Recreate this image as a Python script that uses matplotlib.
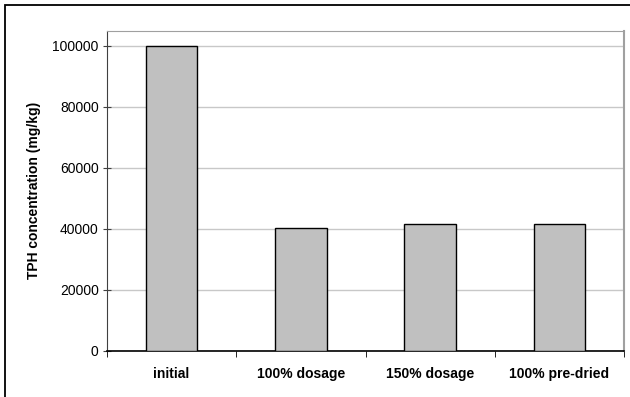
import matplotlib
matplotlib.use("Agg")
import matplotlib.pyplot as plt
from matplotlib.patches import Rectangle
import numpy as np

categories = ["initial", "100% dosage", "150% dosage", "100% pre-dried"]
tph_values = [100000, 40200, 41500, 41500]
y_ticks = [0, 20000, 40000, 60000, 80000, 100000]
y_label = "TPH concentration (mg/kg)"

plt.rcParams['font.family'] = ['Liberation Sans', 'DejaVu Sans']

W, H = 630, 397
fig = plt.figure(figsize=(W / 100, H / 100), dpi=100)
fig.patch.set_facecolor('white')

# outer frame (left and top visible)
fig.patches.append(Rectangle((5 / W, -0.2), 1.5, 1.2 - 5 / H, transform=fig.transFigure,
                             fill=False, edgecolor='black', linewidth=1.3))

left, right, top, bottom = 107, 624, 31, 350.5
ax = fig.add_axes([left / W, 1 - bottom / H, (right - left) / W, (bottom - top) / H])

x = np.arange(len(categories))
ax.bar(x, tph_values, width=0.4, color='#c0c0c0', edgecolor='black', linewidth=1.0, zorder=3)

ax.set_xlim(-0.5, len(categories) - 0.5)
ax.set_ylim(0, 104900)
ax.set_yticks(y_ticks)
ax.set_yticklabels([str(v) for v in y_ticks], fontsize=10)
ax.yaxis.grid(True, color='#c8c8c8', linewidth=1.0, zorder=0)
ax.set_axisbelow(True)

ax.set_xticks(x)
ax.set_xticklabels(categories, fontsize=10, fontweight='bold')
ax.tick_params(axis='x', which='major', length=0, pad=12)
ax.set_xticks(np.arange(-0.5, len(categories), 1.0), minor=True)
ax.tick_params(axis='x', which='minor', length=4, direction='out', color='black')
ax.tick_params(axis='y', length=6, direction='inout', color='#404040', pad=3)

ax.spines['left'].set_color('#404040')
ax.spines['bottom'].set_color('black')
ax.spines['bottom'].set_linewidth(1.2)
ax.spines['top'].set_color('#a0a0a0')
ax.spines['right'].set_color('#a0a0a0')
ax.spines['right'].set_linewidth(1.5)

ax.set_ylabel(y_label, fontsize=10, fontweight='bold', labelpad=8)

fig.savefig("out.png", dpi=100, facecolor='white')
